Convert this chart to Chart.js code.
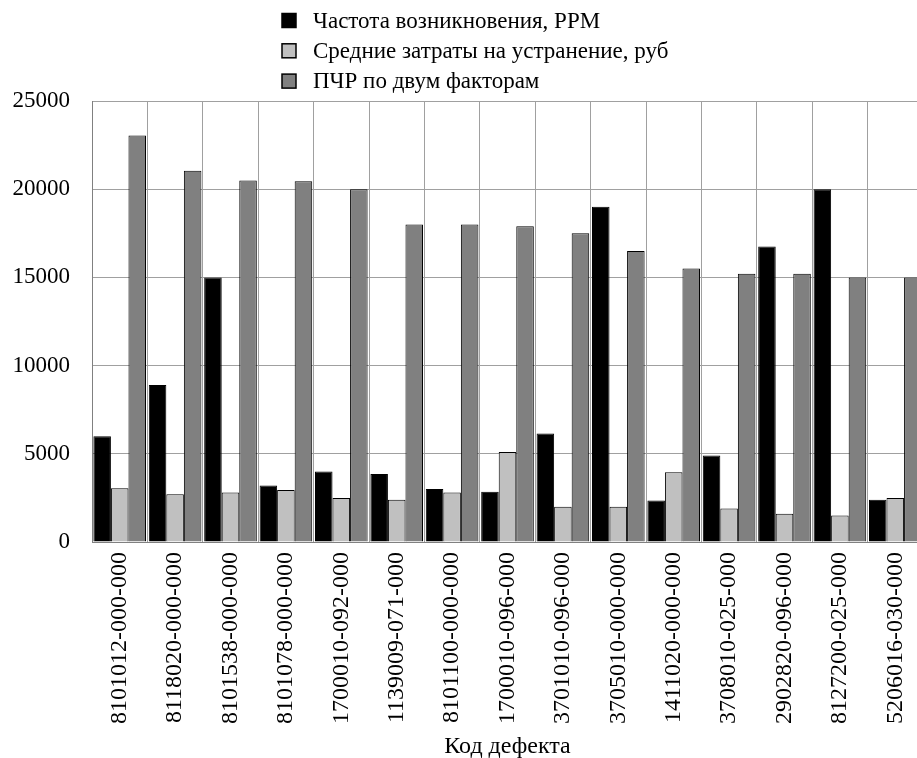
<!DOCTYPE html>
<html lang="ru">
  <head>
    <meta charset="UTF-8" />
    <title>Код дефекта</title>
    <script src="https://cdn.jsdelivr.net/npm/chart.js"></script>
    <style>
      html, body {
        margin: 0;
        padding: 0;
        background: #ffffff;
        overflow: hidden;
      }
      .wrap {
        position: relative;
        width: 940px;
        height: 758px;
      }
    </style>
  </head>
  <body>
    <div class="wrap">
      <canvas id="defectChart" width="940" height="758"></canvas>
    </div>

    <script>
      // defect codes
      const categories = [
        "8101012-000-000", "8118020-000-000", "8101538-000-000",
        "8101078-000-000", "1700010-092-000", "1139009-071-000",
        "8101100-000-000", "1700010-096-000", "3701010-096-000",
        "3705010-000-000", "1411020-000-000", "3708010-025-000",
        "2902820-096-000", "8127200-025-000", "5206016-030-000",
      ];
      const seriesNames = [
        "Частота возникновения, PPM",
        "Средние затраты на устранение, руб",
        "ПЧР по двум факторам",
      ];
      const frequency = [6000, 8900, 15000, 3200, 4000, 3850, 3000, 2850, 6150, 19000, 2350, 4900, 16750, 20000, 2400];
      const costs = [3050, 2700, 2800, 2950, 2500, 2400, 2800, 5100, 2000, 2000, 3950, 1900, 1600, 1500, 2500];
      const ppr = [23050, 21050, 20500, 20450, 20000, 18000, 18000, 17900, 17500, 16500, 15500, 15200, 15200, 15000, 15000];
      const yTicks = [0, 5000, 10000, 15000, 20000, 25000];

      const serif = "'Liberation Serif', 'Times New Roman', serif";
      const colors = ["#000000", "#c0c0c0", "#808080"];

      // legend as a plain column of rows above the plot
      const stackedLegend = {
        id: "stackedLegend",
        afterDraw(chart) {
          const ctx = chart.ctx;
          ctx.save();
          ctx.font = "23px " + serif;
          ctx.textBaseline = "middle";
          chart.data.datasets.forEach((ds, i) => {
            const y = 20.5 + i * 30.3;
            ctx.fillStyle = ds.backgroundColor;
            ctx.fillRect(282, y - 7, 14, 14);
            ctx.strokeStyle = "#000";
            ctx.lineWidth = 1.5;
            ctx.strokeRect(282, y - 7, 14, 14);
            ctx.fillStyle = "#000";
            ctx.fillText(ds.label, 313, y + 1);
          });
          ctx.restore();
        },
      };

      new Chart(document.getElementById("defectChart"), {
        type: "bar",
        data: {
          labels: categories,
          datasets: [frequency, costs, ppr].map((vals, i) => ({
            label: seriesNames[i],
            data: vals,
            backgroundColor: colors[i],
            borderColor: "#000000",
            borderWidth: 1,
            barPercentage: 1,
            categoryPercentage: 0.95,
          })),
        },
        options: {
          responsive: false,
          animation: false,
          layout: { padding: { top: 101, left: 0, right: 17, bottom: 0 } },
          plugins: {
            legend: { display: false },
            tooltip: { enabled: false },
          },
          scales: {
            x: {
              afterFit: (axis) => {
                axis.height = 216;
              },
              grid: { color: "#a0a0a0", drawTicks: false, offset: true },
              border: { color: "#808080" },
              ticks: {
                color: "#000",
                font: { family: serif, size: 24 },
                minRotation: 90,
                maxRotation: 90,
                padding: 10,
                autoSkip: false,
              },
              title: {
                display: true,
                text: "Код дефекта",
                color: "#000",
                font: { family: serif, size: 24 },
                padding: { top: 6, bottom: -3 },
              },
            },
            y: {
              min: 0,
              max: 25000,
              afterFit: (axis) => {
                axis.width = 92;
              },
              afterBuildTicks: (axis) => {
                axis.ticks = yTicks.map((v) => ({ value: v }));
              },
              grid: { color: "#a0a0a0", drawTicks: false },
              border: { color: "#808080" },
              ticks: {
                color: "#000",
                font: { family: serif, size: 23 },
                padding: 22,
                callback: (v) => String(v),
              },
            },
          },
        },
        plugins: [stackedLegend],
      });
    </script>
  </body>
</html>
